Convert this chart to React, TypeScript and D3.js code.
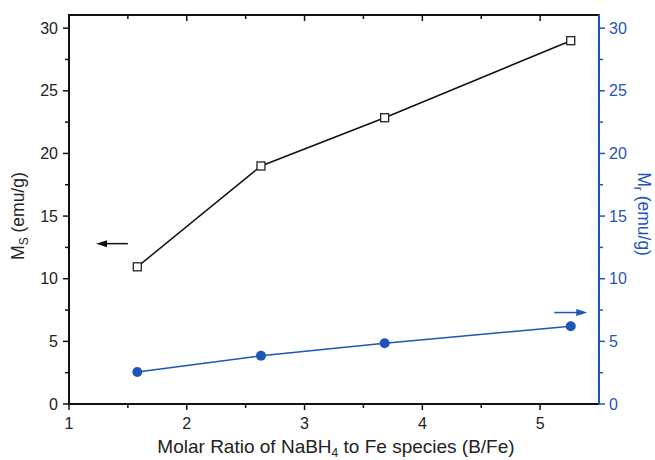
import * as d3 from "d3"
import React, { useEffect, useRef } from "react"

// B/Fe molar ratios
const ratios = [1.58, 2.63, 3.68, 5.26]
// saturation magnetisation Ms (left axis)
const msValues = [10.95, 19.0, 22.85, 29.0]
// remanent magnetisation Mr (right axis)
const mrValues = [2.55, 3.85, 4.85, 6.2]

const xTicks = [1, 2, 3, 4, 5]
const yTicks = [0, 5, 10, 15, 20, 25, 30]

const W = 655, H = 460
const margin = { top: 15, right: 56, bottom: 56, left: 69 }
const BLUE = "#1f55b8"
const FONT = "'Liberation Sans', Arial, sans-serif"

export default function App() {
  const ref = useRef<SVGSVGElement>(null)

  useEffect(() => {
    const svg = d3.select(ref.current)
    svg.selectAll("*").remove()

    const x = d3.scaleLinear().domain([1, 5.5]).range([margin.left, W - margin.right])
    // y=30 sits a bit below the frame top
    const y = d3.scaleLinear().domain([0, 31.05]).range([H - margin.bottom, margin.top])

    const minorX = d3.range(1.5, 5.5, 1)
    const minorY = d3.range(2.5, 30, 5)

    const g = svg.append("g")

    // top frame line + inward ticks
    g.append("line").attr("x1", x(1)).attr("x2", x(5.5))
      .attr("y1", y.range()[1]).attr("y2", y.range()[1])
      .attr("stroke", "#111").attr("stroke-width", 2)
    g.selectAll(".tt").data(xTicks.filter(d => d > 1)).enter().append("line")
      .attr("x1", d => x(d)).attr("x2", d => x(d))
      .attr("y1", y.range()[1]).attr("y2", y.range()[1] + 6)
      .attr("stroke", "#111").attr("stroke-width", 1.5)
    g.selectAll(".tm").data(minorX).enter().append("line")
      .attr("x1", d => x(d)).attr("x2", d => x(d))
      .attr("y1", y.range()[1]).attr("y2", y.range()[1] + 4)
      .attr("stroke", "#111").attr("stroke-width", 1.5)

    // bottom axis
    const bottom = y(0)
    g.append("line").attr("x1", x(1)).attr("x2", x(5.5))
      .attr("y1", bottom).attr("y2", bottom)
      .attr("stroke", "#111").attr("stroke-width", 2)
    g.selectAll(".bt").data(xTicks).enter().append("line")
      .attr("x1", d => x(d)).attr("x2", d => x(d))
      .attr("y1", bottom).attr("y2", bottom + 6)
      .attr("stroke", "#111").attr("stroke-width", 1.5)
    g.selectAll(".bm").data(minorX).enter().append("line")
      .attr("x1", d => x(d)).attr("x2", d => x(d))
      .attr("y1", bottom).attr("y2", bottom + 4)
      .attr("stroke", "#111").attr("stroke-width", 1.5)
    g.selectAll(".bl").data(xTicks).enter().append("text")
      .attr("x", d => x(d)).attr("y", bottom + 25)
      .attr("text-anchor", "middle").attr("font-size", 16)
      .attr("font-family", FONT).attr("fill", "#222")
      .text(d => d)

    // left axis
    const left = x(1)
    g.append("line").attr("x1", left).attr("x2", left)
      .attr("y1", y.range()[1] - 1).attr("y2", bottom + 1)
      .attr("stroke", "#111").attr("stroke-width", 2)
    g.selectAll(".lt").data(yTicks).enter().append("line")
      .attr("x1", left - 6).attr("x2", left)
      .attr("y1", d => y(d)).attr("y2", d => y(d))
      .attr("stroke", "#111").attr("stroke-width", 1.5)
    g.selectAll(".lm").data(minorY).enter().append("line")
      .attr("x1", left - 4).attr("x2", left)
      .attr("y1", d => y(d)).attr("y2", d => y(d))
      .attr("stroke", "#111").attr("stroke-width", 1.5)
    g.selectAll(".ll").data(yTicks).enter().append("text")
      .attr("x", left - 11).attr("y", d => y(d) + 5.5)
      .attr("text-anchor", "end").attr("font-size", 16)
      .attr("font-family", FONT).attr("fill", "#222")
      .text(d => d)

    // right axis (blue)
    const right = x(5.5)
    g.append("line").attr("x1", right).attr("x2", right)
      .attr("y1", y.range()[1] - 1).attr("y2", bottom + 1)
      .attr("stroke", BLUE).attr("stroke-width", 2)
    g.selectAll(".rt").data(yTicks).enter().append("line")
      .attr("x1", right).attr("x2", right + 6)
      .attr("y1", d => y(d)).attr("y2", d => y(d))
      .attr("stroke", BLUE).attr("stroke-width", 1.5)
    g.selectAll(".rm").data(minorY).enter().append("line")
      .attr("x1", right).attr("x2", right + 4)
      .attr("y1", d => y(d)).attr("y2", d => y(d))
      .attr("stroke", BLUE).attr("stroke-width", 1.5)
    g.selectAll(".rl").data(yTicks).enter().append("text")
      .attr("x", right + 10).attr("y", d => y(d) + 5.5)
      .attr("text-anchor", "start").attr("font-size", 16)
      .attr("font-family", FONT).attr("fill", BLUE)
      .text(d => d)

    // axis titles
    const xt = g.append("text").attr("x", (x(1) + x(5.5)) / 2 + 2).attr("y", H - 7)
      .attr("text-anchor", "middle").attr("font-size", 19)
      .attr("font-family", FONT).attr("fill", "#222")
    xt.append("tspan").text("Molar Ratio of NaBH")
    xt.append("tspan").attr("dy", 4).attr("font-size", 12).text("4")
    xt.append("tspan").attr("dy", -4).text(" to Fe species (B/Fe)")

    const lt = g.append("text")
      .attr("transform", `translate(24,${(y(0) + y(30)) / 2}) rotate(-90)`)
      .attr("text-anchor", "middle").attr("font-size", 17.5)
      .attr("font-family", FONT).attr("fill", "#222")
    lt.append("tspan").text("M")
    lt.append("tspan").attr("dy", 4).attr("font-size", 12).text("S")
    lt.append("tspan").attr("dy", -4).text(" (emu/g)")

    const rt = g.append("text")
      .attr("transform", `translate(638,${(y(0) + y(30)) / 2 - 2}) rotate(90)`)
      .attr("text-anchor", "middle").attr("font-size", 17.5)
      .attr("font-family", FONT).attr("fill", BLUE)
    rt.append("tspan").text("M")
    rt.append("tspan").attr("dy", 4).attr("font-size", 12).text("r")
    rt.append("tspan").attr("dy", -4).text(" (emu/g)")

    // Ms series
    const msData = ratios.map((r, i) => [r, msValues[i]] as [number, number])
    const mrData = ratios.map((r, i) => [r, mrValues[i]] as [number, number])
    const line = d3.line<[number, number]>().x(d => x(d[0])).y(d => y(d[1]))

    g.append("path").datum(msData).attr("d", line)
      .attr("fill", "none").attr("stroke", "#111").attr("stroke-width", 1.5)
    g.selectAll(".ms").data(msData).enter().append("rect")
      .attr("x", d => x(d[0]) - 4).attr("y", d => y(d[1]) - 4)
      .attr("width", 8).attr("height", 8)
      .attr("fill", "white").attr("stroke", "#222").attr("stroke-width", 1.3)

    g.append("path").datum(mrData).attr("d", line)
      .attr("fill", "none").attr("stroke", BLUE).attr("stroke-width", 1.5)
    g.selectAll(".mr").data(mrData).enter().append("circle")
      .attr("cx", d => x(d[0])).attr("cy", d => y(d[1])).attr("r", 5)
      .attr("fill", BLUE)

    // direction arrows
    const arrow = (x1: number, x2: number, yy: number, color: string) => {
      const dir = Math.sign(x2 - x1)
      g.append("line").attr("x1", x1).attr("x2", x2 - dir * 8)
        .attr("y1", yy).attr("y2", yy)
        .attr("stroke", color).attr("stroke-width", 1.5)
      g.append("path")
        .attr("d", `M${x2},${yy} L${x2 - dir * 11},${yy - 3.5} L${x2 - dir * 11},${yy + 3.5} Z`)
        .attr("fill", color)
    }
    arrow(x(1.5), x(1.23), y(12.8), "#111")
    arrow(x(5.12), x(5.4), y(7.3), BLUE)
  }, [])

  return (
    <svg ref={ref} width={W} height={H} style={{ position: "absolute", left: 0, top: 0, background: "white" }} />
  )
}
